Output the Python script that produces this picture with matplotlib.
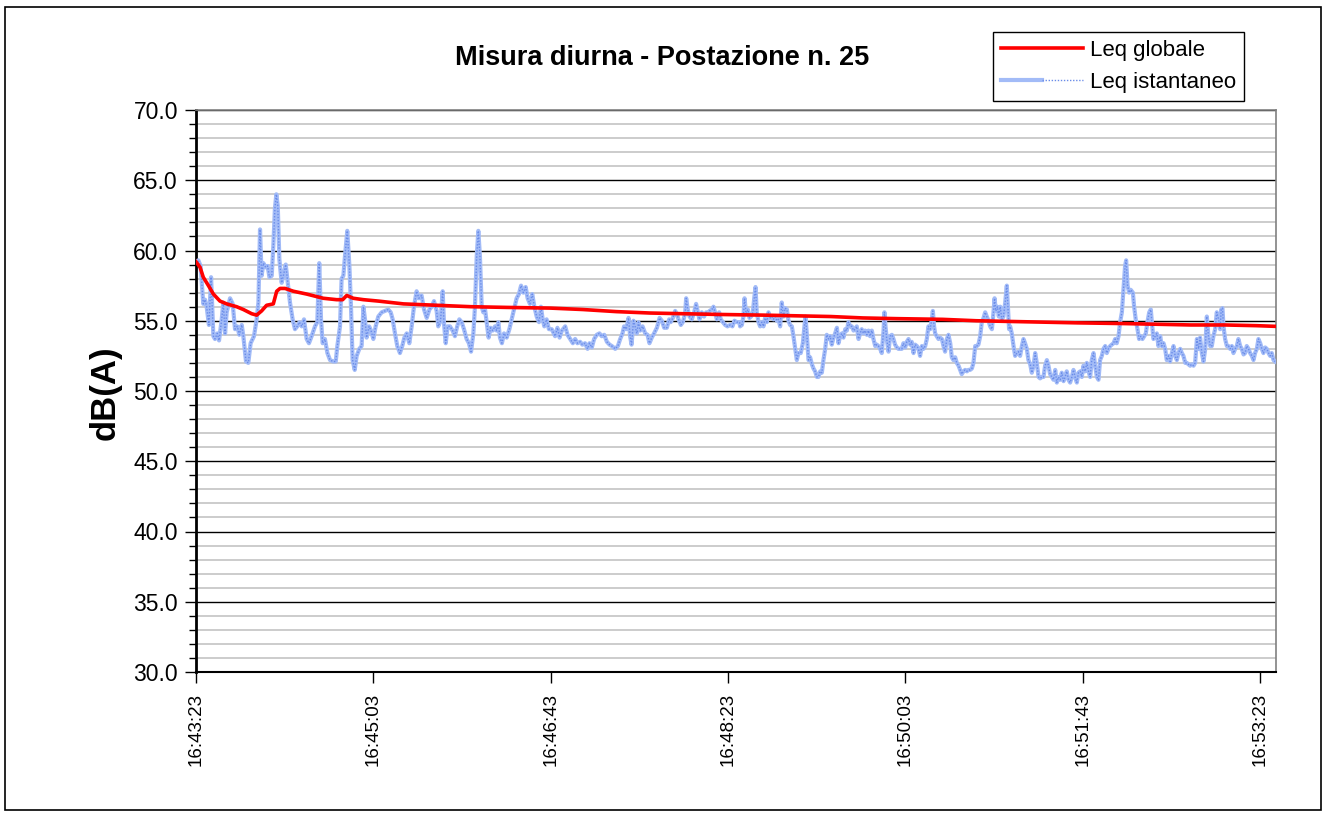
import matplotlib
matplotlib.use("Agg")
import matplotlib.pyplot as plt
from matplotlib.ticker import MultipleLocator, FormatStrFormatter, FixedLocator
from matplotlib.patches import Rectangle
from matplotlib.legend_handler import HandlerTuple

plt.rcParams['font.family'] = ['Liberation Sans', 'DejaVu Sans']

# ---- data (seconds from 16:43:23, dB(A)) ----
t_istantaneo = [
    0.0, 1.3, 2.6, 4.1, 5.1, 6.0, 7.3, 8.5, 9.8, 10.7, 12.0, 13.0, 14.5, 15.4, 16.4, 17.3,
    19.2, 20.7, 22.0, 23.3, 24.4, 25.8, 26.7, 28.2, 29.5, 30.8, 32.7, 34.2, 35.2, 36.1, 37.0,
    38.0, 39.3, 40.4, 41.4, 42.7, 43.6, 44.5, 45.3, 46.1, 47.0, 48.3, 49.6, 50.6, 51.5, 53.0,
    54.5, 55.8, 57.1, 58.3, 59.6, 60.9, 62.4, 63.7, 65.2, 67.1, 68.4, 69.5, 70.5, 71.4, 72.7,
    74.1, 75.6, 77.4, 78.8, 79.7, 81.2, 82.1, 83.1, 84.0, 85.3, 86.5, 87.4, 88.3, 89.5, 90.6,
    92.1, 93.4, 94.4, 95.3, 96.2, 97.6, 98.7, 100.0, 101.3, 102.8,
    104.7, 106.6, 108.4, 109.8, 110.9, 112.2, 113.5, 115.0, 116.3, 117.5, 118.8, 120.3, 121.6,
    122.9, 124.4, 125.7, 127.2, 128.6, 130.1, 131.6, 132.9, 134.2, 135.7, 136.6, 137.9, 139.1,
    139.8, 140.8, 141.9, 143.2, 144.7, 146.0, 147.3, 148.5, 149.8, 151.1, 152.6, 153.9, 155.1,
    156.4, 157.3, 158.3, 159.2, 160.1, 161.1, 162.0, 163.0, 163.9, 165.0, 166.1, 167.3, 168.6,
    169.5, 170.5, 171.4, 172.5, 173.7, 175.2, 176.7, 178.0, 179.3, 180.8, 182.1, 183.3, 184.6,
    185.9, 187.0, 188.3, 189.6, 190.8, 192.1, 193.4, 194.5, 195.5, 196.4, 197.7, 199.0,
    200.6, 202.5, 203.8, 205.0, 206.3, 208.2, 209.5, 211.0, 212.5, 213.8, 215.1, 216.6, 217.9,
    219.4, 220.8, 221.9, 223.2, 224.5, 226.0, 227.5, 228.8, 230.2, 231.7, 233.2, 234.5, 236.4,
    237.9, 239.2, 240.5, 241.4, 242.6, 243.9, 244.8, 245.6, 246.7, 247.6, 248.6, 249.5, 250.5,
    251.8, 253.3, 254.6, 255.7, 257.0, 258.3, 259.9, 261.4, 262.7, 264.0, 265.5, 266.8, 267.7,
    268.9, 270.2, 271.1, 272.1, 273.4, 274.5, 275.8, 276.4, 277.3, 278.3, 279.6, 280.9, 282.0,
    283.0, 283.9, 285.2, 286.5, 287.7, 288.6, 289.6, 290.9, 291.8, 292.7, 293.7, 295.0, 295.9,
    297.1, 298.4, 299.7, 301.2, 302.5, 303.6, 305.0, 306.5,
    306.8, 307.8, 308.7, 309.3, 310.2, 311.2, 312.1, 313.0, 314.0, 314.7, 315.5, 316.2, 317.2,
    318.1, 319.1, 320.0, 320.9, 321.9, 322.8, 323.8, 324.7, 325.6, 326.6, 327.5, 328.5, 329.4,
    330.3, 331.3, 332.2, 333.2, 334.1, 335.0, 336.0, 336.9, 337.9, 338.8, 339.7, 341.0, 342.2,
    343.1, 343.7, 344.4, 345.4, 346.3, 347.3, 348.2, 349.1, 350.1, 351.0, 352.0, 352.9, 353.8,
    354.8, 355.7, 356.7, 357.6, 358.5, 359.5, 360.4, 361.4, 362.3, 363.2, 364.2, 365.1, 366.1,
    367.0, 367.9, 368.9, 369.8, 370.8, 371.7, 372.6, 373.6, 374.5, 375.4, 376.4, 377.3, 378.3,
    379.2, 380.1, 381.1, 382.0, 383.0, 383.9, 384.8, 385.8, 386.7, 387.7, 388.2, 388.8, 389.5,
    390.5, 391.4, 392.4, 393.3, 394.2, 395.2, 396.1, 397.1, 398.0, 398.9, 399.9, 400.8, 401.8,
    402.7, 403.6, 404.6, 405.5, 406.5, 407.4, 408.3,
    409.3, 410.2, 411.2, 412.1, 413.0, 414.0, 414.9, 415.5, 416.2, 416.8, 417.7, 418.7, 419.6,
    420.6, 421.5, 422.4, 423.4, 424.3, 425.3, 426.2, 427.1, 428.1, 429.0, 430.0, 430.9, 431.8,
    432.8, 433.7, 434.7, 435.6, 436.5, 437.5, 438.4, 439.4, 440.3, 441.2, 442.2, 443.1, 444.1,
    445.0, 445.9, 446.9, 447.8, 448.8, 449.7, 450.3, 451.0, 451.9, 452.7, 453.5, 454.4, 455.3,
    456.3, 457.2, 457.8, 458.5, 459.1, 460.0, 461.0, 461.9, 462.9, 463.8, 464.7, 465.7, 466.6,
    467.5, 468.5, 469.4, 470.4, 471.3, 472.3, 473.2, 474.1, 475.1, 476.0, 477.0, 477.9, 478.8,
    479.8, 480.7, 481.6, 482.6, 483.5, 484.5, 485.4, 486.3, 487.3, 488.2, 489.2, 490.1, 491.0,
    492.0, 492.9, 493.9, 494.8, 495.7, 496.7, 497.6, 498.6, 499.5, 500.4, 501.4, 502.3, 503.3,
    504.2, 505.1, 506.1, 507.0, 508.0, 508.9, 509.8,
    510.8, 511.7, 512.7, 513.6, 514.5, 515.5, 516.4, 517.4, 518.3, 519.2, 520.2, 521.1, 522.1,
    523.0, 523.9, 524.5, 525.3, 526.2, 527.1, 528.3, 529.0, 529.9, 530.9, 531.8, 532.8, 533.7,
    534.7, 535.6, 536.5, 537.5, 538.4, 539.0, 539.9, 540.9, 541.8, 542.7, 543.7, 544.6, 545.6,
    546.5, 547.4, 548.4, 549.3, 550.3, 551.2, 552.1, 553.1, 554.0, 555.0, 555.9, 556.8, 557.8,
    558.7, 559.7, 560.6, 561.5, 562.5, 563.4, 564.4, 565.3, 566.2, 567.2, 568.1, 569.1, 570.0,
    570.9, 571.9, 572.8, 573.7, 574.7, 575.6, 576.6, 577.5, 578.1, 578.8, 579.4, 580.3, 581.3,
    582.2, 583.1, 584.1, 585.0, 586.0, 586.9, 587.8, 588.8, 589.7, 590.7, 591.6, 592.5, 593.5,
    594.4, 595.4, 596.3, 597.2, 598.2, 599.1, 600.1, 601.0, 601.9, 602.9, 603.8, 604.8, 605.7,
    606.6, 607.6, 608.5,
]
v_istantaneo = [
    59.2, 59.3, 58.9, 56.2, 56.5, 56.0, 54.7, 58.1, 53.9, 53.7, 54.1, 53.6, 55.1, 56.3, 54.1, 55.6,
    56.6, 56.2, 54.4, 54.6, 54.0, 54.7, 53.9, 52.1, 52.0, 53.4, 53.9, 55.1, 56.3, 61.5, 58.2,
    59.1, 58.8, 58.9, 58.1, 58.2, 60.3, 63.0, 64.0, 63.2, 59.4, 57.7, 58.4, 59.0, 58.0, 56.3,
    55.1, 54.4, 54.6, 54.9, 54.6, 55.1, 53.7, 53.4, 53.9, 54.6, 54.9, 59.1, 55.1, 53.4, 53.7,
    52.7, 52.2, 52.1, 52.1, 53.2, 54.6, 58.0, 58.2, 59.6, 61.4, 58.9, 56.0, 52.2, 51.5, 52.5,
    53.0, 53.2, 56.0, 55.1, 53.8, 54.6, 54.3, 53.7, 54.6, 55.3,
    55.6, 55.7, 55.8, 55.6, 55.1, 54.1, 53.2, 52.7, 53.2, 53.8, 54.1, 53.4, 54.6,
    56.0, 57.1, 56.6, 56.8, 55.8, 55.2, 55.8, 56.0, 56.4, 55.7, 54.6, 55.0, 57.1,
    54.9, 53.4, 54.6, 54.6, 54.3, 53.9, 54.6, 55.1, 54.9, 54.4, 53.7, 53.4, 52.8,
    54.1, 56.0, 59.6, 61.4, 59.6, 56.0, 55.6, 55.8, 54.9, 53.8, 54.5, 54.3, 54.6,
    54.3, 54.9, 53.8, 53.4, 54.1, 53.8, 54.4, 55.1, 55.8, 56.6, 56.9, 57.5, 57.0,
    57.4, 56.6, 56.2, 56.9, 56.0, 55.3, 54.9, 56.0, 55.1, 54.6, 55.1, 54.4,
    54.4, 53.9, 54.5, 53.8, 54.3, 54.6, 54.0, 53.7, 53.4, 53.7, 53.4, 53.5, 53.3,
    53.4, 53.0, 53.4, 53.1, 53.7, 54.0, 54.1, 53.9, 54.0, 53.5, 53.3, 53.2, 53.0,
    53.2, 53.7, 54.1, 54.6, 54.4, 55.2, 53.9, 53.3, 55.0, 54.6, 54.1, 54.9, 54.3,
    54.6, 54.1, 54.0, 53.4, 53.8, 54.1, 54.5, 55.2, 55.0, 54.5, 54.5, 55.1, 54.9,
    55.2, 55.7, 55.5, 55.1, 54.7, 54.9, 55.5, 56.6, 55.8, 55.3, 55.1, 55.6, 56.2,
    55.6, 55.1, 55.6, 55.3, 55.6, 55.5, 55.7, 55.8, 56.0, 55.6, 55.1, 55.6, 55.1,
    54.9, 54.7, 54.6, 54.7, 54.6, 55.0, 54.9, 54.9,
    54.6, 54.7, 55.3, 56.6, 55.5, 55.8, 55.2, 55.3, 55.6, 56.5, 57.4, 55.6, 54.9,
    54.6, 54.9, 54.6, 55.2, 54.9, 55.6, 55.2, 55.3, 55.1, 55.3, 55.0, 55.1, 54.6,
    56.3, 55.3, 55.9, 55.8, 55.0, 54.7, 54.6, 53.9, 53.0, 52.2, 52.7, 52.7, 53.4,
    54.6, 55.3, 54.1, 52.2, 52.4, 51.9, 51.6, 51.4, 51.0, 51.0, 51.4, 51.3, 52.2,
    53.0, 54.0, 53.7, 53.9, 53.3, 53.8, 54.1, 54.5, 53.4, 53.9, 54.1, 53.8, 54.4,
    54.3, 54.9, 54.6, 54.6, 54.3, 54.4, 54.6, 53.7, 54.1, 54.4, 54.1, 54.3, 54.0,
    54.3, 53.9, 54.3, 53.7, 53.2, 53.3, 53.2, 53.0, 52.7, 54.3, 55.6, 54.6, 53.7,
    52.8, 53.9, 54.0, 53.7, 53.3, 53.1, 53.0, 53.0, 53.0, 53.4, 53.1, 53.5, 53.7,
    53.3, 53.5, 52.7, 53.3, 53.2, 53.0, 52.5,
    53.2, 53.0, 53.2, 53.7, 54.6, 54.4, 55.1, 55.7, 54.6, 54.1, 53.9, 53.7, 53.8,
    53.7, 53.2, 52.8, 53.7, 54.0, 53.4, 52.4, 52.2, 52.4, 52.0, 51.8, 51.5, 51.2,
    51.4, 51.5, 51.4, 51.5, 51.5, 51.6, 52.0, 53.2, 53.2, 53.3, 53.9, 54.9, 55.2,
    55.6, 55.3, 55.0, 54.6, 54.4, 55.6, 56.6, 55.7, 56.0, 55.3, 56.0, 55.1, 55.3,
    56.3, 57.5, 56.0, 54.4, 54.6, 54.1, 53.2, 52.5, 52.7, 52.8, 52.5, 53.2, 53.7,
    53.4, 53.0, 52.2, 51.9, 51.3, 51.8, 52.7, 52.0, 51.0, 50.9, 51.0, 51.0, 51.8,
    52.2, 51.8, 51.2, 51.0, 50.8, 51.5, 50.6, 51.0, 50.8, 51.3, 50.7, 51.0, 51.4,
    50.8, 50.6, 51.0, 51.5, 51.0, 50.6, 51.3, 51.4, 51.0, 51.8, 51.4, 52.0, 51.4,
    51.0, 52.2, 52.7, 51.8, 51.0, 50.8, 52.2,
    52.5, 53.0, 53.2, 52.7, 53.0, 53.2, 53.3, 53.4, 53.7, 53.4, 53.9, 54.9, 55.6,
    57.2, 58.9, 59.3, 57.5, 57.0, 57.2, 57.0, 56.0, 55.1, 54.4, 53.7, 53.9, 53.7,
    53.9, 54.1, 54.9, 55.6, 55.8, 54.9, 53.7, 53.9, 54.1, 53.2, 53.9, 53.2, 53.4,
    53.0, 52.2, 52.5, 52.1, 52.7, 53.2, 52.5, 52.2, 52.7, 53.0, 52.7, 52.5, 52.0,
    52.0, 51.9, 51.8, 51.9, 51.8, 52.0, 53.7, 53.0, 53.8, 52.7, 52.1, 53.0, 55.3,
    53.9, 53.2, 53.2, 53.9, 54.4, 55.6, 55.1, 54.4, 55.8, 55.9, 54.6, 53.7, 53.2,
    53.2, 53.0, 53.2, 52.7, 53.0, 53.2, 53.7, 53.2, 53.0, 52.6, 52.7, 53.2, 53.0,
    52.7, 52.5, 52.2, 52.7, 53.0, 53.7, 53.4, 53.0, 52.7, 53.1, 53.0, 52.7, 52.5,
    52.7, 52.2, 52.1,
]

t_globale = [0.0, 2.3, 4.1, 7.0, 9.8, 13.5, 17.3, 22.9, 26.7, 31.4, 34.2, 37.0, 39.8, 43.6,
             45.5, 47.4, 50.2, 54.9, 62.4, 71.8, 79.3, 82.7, 85.0, 88.7, 94.4, 102.8, 117.0,
             136.0, 155.0, 175.0, 200.0, 218.0, 237.0, 256.0, 275.0, 294.0, 320.0, 339.0,
             358.0, 376.0, 395.0, 421.0, 440.0, 459.0, 478.0, 497.0, 523.0, 542.0, 561.0,
             580.0, 598.0, 609.0]
v_globale = [59.2, 58.8, 58.1, 57.5, 56.9, 56.4, 56.2, 56.0, 55.8, 55.5, 55.4, 55.7, 56.1, 56.2,
             57.1, 57.3, 57.3, 57.1, 56.9, 56.6, 56.5, 56.5, 56.8, 56.6, 56.5, 56.4, 56.2,
             56.1, 56.0, 55.95, 55.9, 55.8, 55.65, 55.55, 55.5, 55.45, 55.4, 55.35,
             55.3, 55.2, 55.15, 55.1, 55.0, 54.95, 54.9, 54.85, 54.8, 54.75, 54.7,
             54.7, 54.65, 54.6]

tick_seconds = [0, 100, 200, 300, 400, 500, 600]
tick_labels = ["16:43:23", "16:45:03", "16:46:43", "16:48:23", "16:50:03", "16:51:43", "16:53:23"]

# ---- figure ----
W, H = 1325, 816
fig = plt.figure(figsize=(W / 100, H / 100), dpi=100)
fig.patch.set_facecolor('white')
ax = fig.add_axes([196 / W, 1 - 672 / H, (1276 - 196) / W, (672 - 110) / H])

# gridlines
ax.yaxis.set_major_locator(MultipleLocator(5))
ax.yaxis.set_minor_locator(MultipleLocator(1))
ax.grid(which='minor', axis='y', color='#c8c8c8', lw=1.3, zorder=0)
ax.grid(which='major', axis='y', color='black', lw=1.0, zorder=0.5)
ax.set_axisbelow(True)

blue_base, = ax.plot(t_istantaneo, v_istantaneo, color='#a2bbf7', lw=3.0, zorder=3,
                     solid_joinstyle='round')
blue_dot, = ax.plot(t_istantaneo, v_istantaneo, color='#6a8ce8', lw=1.0, ls=(0, (1, 1.2)),
                    zorder=3.1)
red_line, = ax.plot(t_globale, v_globale, color='#ff0000', lw=2.6, zorder=4)

ax.set_xlim(0, 609)
ax.set_ylim(30, 70)
ax.xaxis.set_major_locator(FixedLocator(tick_seconds))
ax.set_xticklabels(tick_labels, rotation=90, fontsize=13.5)
ax.yaxis.set_major_formatter(FormatStrFormatter('%.1f'))
ax.tick_params(axis='y', which='major', direction='out', length=8, width=1, labelsize=16.5, pad=5)
ax.tick_params(axis='y', which='minor', direction='out', length=5, width=1)
ax.tick_params(axis='x', which='major', direction='out', length=8, width=1, pad=7)

for side in ['top', 'right']:
    ax.spines[side].set_color('#808080')
    ax.spines[side].set_linewidth(1.2)
ax.spines['left'].set_linewidth(2)
ax.spines['bottom'].set_linewidth(1.5)

fig.text(662 / W, 1 - 58 / H, "Misura diurna - Postazione n. 25", ha='center', va='center',
         fontsize=19.5, fontweight='bold')
fig.text(105 / W, 1 - 393 / H, "dB(A)", ha='center', va='center', rotation=90,
         fontsize=25, fontweight='bold')

leg = fig.legend([red_line, (blue_base, blue_dot)], ["Leq globale", "Leq istantaneo"],
                 handler_map={tuple: HandlerTuple(ndivide=None, pad=0)},
                 loc='upper left', bbox_to_anchor=(993 / W, 1 - 32 / H),
                 fontsize=16, frameon=True, fancybox=False, edgecolor='black',
                 handlelength=3.7, handletextpad=0.3, labelspacing=0.5,
                 borderpad=0.36, borderaxespad=0, framealpha=1)
leg.get_frame().set_linewidth(1.0)

fig.patches.append(Rectangle((5 / W, 6 / H), (1321 - 5) / W, (809 - 6) / H,
                             transform=fig.transFigure, fill=False, edgecolor='black', lw=1.2))

fig.savefig('out.png', dpi=100, facecolor='white')
